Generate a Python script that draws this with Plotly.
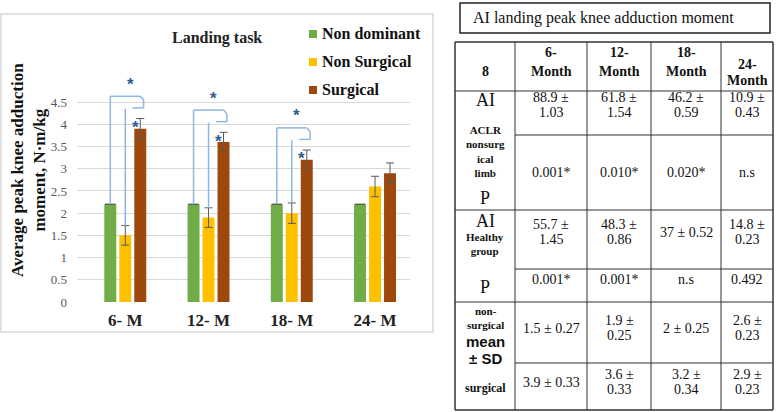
import plotly.graph_objects as go

# ---------------- data ----------------
categories = ["6- M", "12- M", "18- M", "24- M"]
series_names = ["Non dominant", "Non Surgical", "Surgical"]
non_dominant = [2.2, 2.2, 2.2, 2.2]
non_surgical = [1.5, 1.9, 2.0, 2.6]
surgical = [3.9, 3.6, 3.2, 2.9]
err_non_dominant = [0, 0, 0, 0]
err_non_surgical = [0.22, 0.22, 0.23, 0.23]
err_surgical = [0.23, 0.22, 0.22, 0.23]
y_ticks = [0, 0.5, 1, 1.5, 2, 2.5, 3, 3.5, 4, 4.5]
significant_idx = [0, 1, 2]

table_title = "AI landing peak knee adduction moment"
table_corner = "8"
month_top = ["6-", "12-", "18-", "24-"]
month_bottom = ["Month", "Month", "Month", "Month"]
ai_aclr_mean = ["88.9", "61.8", "46.2", "10.9"]
ai_aclr_sd = ["1.03", "1.54", "0.59", "0.43"]
p_aclr = ["0.001*", "0.010*", "0.020*", "n.s"]
ai_healthy_mean = ["55.7", "48.3", "37", "14.8"]
ai_healthy_sd = ["1.45", "0.86", "0.52", "0.23"]
p_healthy = ["0.001*", "0.001*", "n.s", "0.492"]
nonsurg_mean = ["1.5", "1.9", "2", "2.6"]
nonsurg_sd = ["0.27", "0.25", "0.25", "0.23"]
surg_mean = ["3.9", "3.6", "3.2", "2.9"]
surg_sd = ["0.33", "0.33", "0.34", "0.23"]

# ---------------- layout constants ----------------
FW, FH = 778, 412
L, R, T, B = 77, 368, 71, 110
PW, PH = FW - L - R, FH - T - B
BARGAP, GROUPGAP = 0.46, 0.2
SLOT = (1 - BARGAP) / 3
SERIF = "Liberation Serif, Times New Roman, serif"
SANS = "Liberation Sans, Arial, sans-serif"
COLORS = ["#70AD47", "#FFC000", "#9E480E"]
BRACKET = "#8DB6E2"
STAR = "#2F5C8F"


def PX(x):
    return (x - L) / PW


def PY(y):
    return 1 - (y - T) / PH


fig = go.Figure()
vals = [non_dominant, non_surgical, surgical]
errs = [err_non_dominant, err_non_surgical, err_surgical]
for k in range(3):
    fig.add_bar(
        x=categories, y=vals[k], name=series_names[k],
        marker=dict(color=COLORS[k], line=dict(width=0)),
        error_y=dict(type="data", array=errs[k], visible=True,
                     color="#595959", thickness=1, width=5 if k == 0 else 4),
        showlegend=False,
    )

shapes = []
annotations = []

# chart panel border
shapes.append(dict(type="rect", xref="paper", yref="paper", x0=PX(1), x1=PX(433),
                   y0=PY(332), y1=PY(14), line=dict(color="#D9D9D9", width=1.5),
                   layer="below"))


def seg(x0, y0, x1, y1):
    shapes.append(dict(type="line", xref="x", yref="y", x0=x0, y0=y0, x1=x1, y1=y1,
                       line=dict(color=BRACKET, width=1.5)))


def star(x, y):
    annotations.append(dict(x=x, y=y, xref="x", yref="y", text="<b>*</b>",
                            xanchor="center", yanchor="middle", showarrow=False,
                            borderpad=0,
                            font=dict(family=SANS, size=17, color=STAR)))


for i in significant_idx:
    top_s = surgical[i] + err_surgical[i]
    outer = top_s + 0.5
    inner = top_s + 0.24
    xg, xy, xb = i - SLOT, i, i + SLOT
    seg(xg, non_dominant[i], xg, outer)
    seg(xg, outer, xb, outer)
    seg(xb, outer, xb + 0.04, outer - 0.08)
    seg(xb + 0.04, outer - 0.08, xb + 0.04, inner)
    seg(xy, non_surgical[i] + err_non_surgical[i], xy, inner - 0.02)
    seg(i + 0.09, inner, xb + 0.04, inner)
    star(i + 0.06, outer + 0.27)
    star(i + 0.12, top_s - 0.2)


def txt(x, y, s, size=14, bold=False, family=SERIF, anchor="center", angle=0, color="#111"):
    annotations.append(dict(x=PX(x), y=PY(y), xref="paper", yref="paper",
                            xanchor=anchor, yanchor="middle", textangle=angle,
                            borderpad=0,
                            text=("<b>%s</b>" % s) if bold else s, showarrow=False,
                            font=dict(family=family, size=size, color=color)))


# chart title
txt(217, 38, "Landing task", size=16, bold=True, color="#222")
# y-axis title
txt(28, 170, "Average peak knee adduction<br>moment, N·m/kg", size=17, bold=True, angle=-90)

# custom legend
for k, yy in enumerate([34, 62, 90]):
    shapes.append(dict(type="rect", xref="paper", yref="paper", x0=PX(309), x1=PX(317),
                       y0=PY(yy + 4), y1=PY(yy - 4), line=dict(width=0), fillcolor=COLORS[k]))
    txt(321, yy, series_names[k], size=16, bold=True, anchor="left")

# ---------------- table ----------------


def hline(y, x0, x1, w=1):
    shapes.append(dict(type="line", xref="paper", yref="paper", x0=PX(x0), x1=PX(x1),
                       y0=PY(y), y1=PY(y), line=dict(color="#333333", width=w)))


def vline(x, y0, y1, w=1):
    shapes.append(dict(type="line", xref="paper", yref="paper", x0=PX(x), x1=PX(x),
                       y0=PY(y0), y1=PY(y1), line=dict(color="#333333", width=w)))


# title box
shapes.append(dict(type="rect", xref="paper", yref="paper", x0=PX(460), x1=PX(770),
                   y0=PY(33), y1=PY(3), line=dict(color="#222", width=1.5)))
txt(472, 18, table_title, size=16, anchor="left")

TL, TR, TT, TB = 455, 773, 42, 410
col_x = [455, 515, 587, 651, 721, 773]
centers = [(col_x[j] + col_x[j + 1]) / 2 for j in range(5)]
for x in col_x:
    vline(x, TT, TB, 1.5 if x in (TL, TR) else 1)
for y in [42, 91, 210, 302, 410]:
    hline(y, TL, TR, 1.5 if y in (TT, TB) else 1)
for y in [135, 269, 363]:
    hline(y, 515, TR)

# header
txt(centers[0], 71, table_corner, bold=True)
for j in range(4):
    if j < 3:
        txt(centers[j + 1], 53, month_top[j], bold=True)
        txt(centers[j + 1], 72, month_bottom[j], bold=True)
    else:
        txt(centers[j + 1], 64, month_top[j], bold=True)
        txt(centers[j + 1], 80, month_bottom[j], bold=True)

# row labels
txt(centers[0], 100, "AI", size=18)
txt(centers[0], 151, "ACLR<br>nonsurg<br>ical<br>limb", size=11, bold=True)
txt(centers[0], 198, "P", size=18)
txt(centers[0], 221, "AI", size=18)
txt(centers[0], 244, "Healthy<br>group", size=11, bold=True)
txt(centers[0], 287, "P", size=18)
txt(centers[0], 318, "non-<br>surgical", size=11, bold=True)
txt(centers[0], 341, "mean", size=15, bold=True, family=SANS)
txt(centers[0], 358, "± SD", size=15, bold=True, family=SANS)
txt(centers[0], 388, "surgical", size=12, bold=True)


def cell(j, mean, sd, ytop, yone, wrap):
    if wrap:
        txt(centers[j + 1], ytop, mean + " ±")
        txt(centers[j + 1], ytop + 15, sd)
    else:
        txt(centers[j + 1], yone, mean + " ± " + sd)


for j in range(4):
    cell(j, ai_aclr_mean[j], ai_aclr_sd[j], 97, 104, True)
    txt(centers[j + 1], 172, p_aclr[j])
    cell(j, ai_healthy_mean[j], ai_healthy_sd[j], 224, 232, j != 2)
    txt(centers[j + 1], 279, p_healthy[j])
    cell(j, nonsurg_mean[j], nonsurg_sd[j], 320, 328, j in (1, 3))
    cell(j, surg_mean[j], surg_sd[j], 374, 382, j != 0)

fig.update_layout(
    width=FW, height=FH,
    margin=dict(l=L, r=R, t=T, b=B),
    paper_bgcolor="white", plot_bgcolor="white",
    barmode="group", bargap=BARGAP, bargroupgap=GROUPGAP,
    shapes=shapes, annotations=annotations, showlegend=False,
    xaxis=dict(type="category", range=[-0.58, 3.42], showgrid=False, zeroline=False,
               showline=False, ticks="", ticklabelstandoff=6,
               tickfont=dict(family=SERIF, size=17, color="#222"),
               tickprefix="<b>", ticksuffix="</b>"),
    yaxis=dict(range=[0, 5.2], tickvals=y_ticks, ticktext=[("%g" % v) for v in y_ticks],
               showgrid=True, gridcolor="#D9D9D9", gridwidth=1, zeroline=False,
               showline=False, ticks="", ticklabelstandoff=9,
               tickfont=dict(family=SERIF, size=13, color="#595959")),
)

fig.write_html("out.html", config={"displayModeBar": False},
               post_script="document.body.style.margin='0px';")
